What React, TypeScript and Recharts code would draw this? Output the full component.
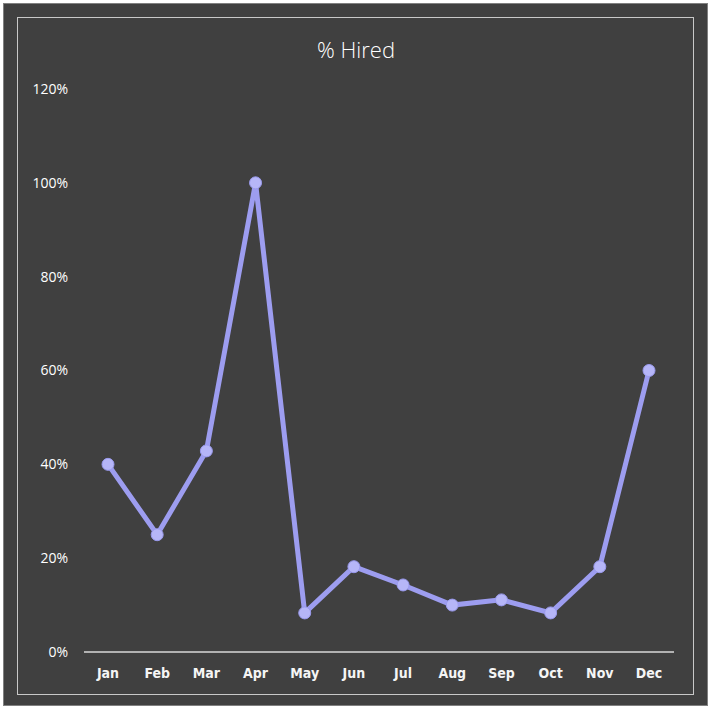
import { LineChart, Line, XAxis, YAxis } from "recharts";

// Monthly hire rate (percent)
const months = ["Jan", "Feb", "Mar", "Apr", "May", "Jun", "Jul", "Aug", "Sep", "Oct", "Nov", "Dec"];
const hired = [40, 25, 42.86, 100, 8.33, 18.18, 14.29, 10, 11.11, 8.33, 18.18, 60];
const yTicks = [0, 20, 40, 60, 80, 100, 120];

const data = months.map((m, i) => ({ month: m, hired: hired[i] }));

export default function App() {
  return (
    <div style={{ position: "absolute", left: 0, top: 0, width: 722, height: 720, background: "#fff" }}>
      {/* outer dark panel */}
      <div
        style={{
          position: "absolute",
          left: 3,
          top: 3,
          width: 703,
          height: 701,
          background: "#404040",
          border: "1px solid #808080",
        }}
      />
      {/* inner frame */}
      <div
        style={{
          position: "absolute",
          left: 17,
          top: 17,
          width: 675,
          height: 676,
          border: "1.5px solid #c8c8c8",
        }}
      />
      <div
        style={{
          position: "absolute",
          left: 17,
          top: 34,
          width: 678,
          textAlign: "center",
          color: "#ffffff",
          fontFamily: "'Open Sans', Roboto, sans-serif",
          fontWeight: 300,
          fontSize: 22,
        }}
      >
        % Hired
      </div>
      <div style={{ position: "absolute", left: 0, top: 0 }}>
        <LineChart width={722} height={720} data={data} margin={{ top: 89, right: 48, bottom: 38, left: 0 }}>
          <XAxis
            dataKey="month"
            height={30}
            padding={{ left: 24, right: 25 }}
            axisLine={{ stroke: "#d9d9d9", strokeWidth: 1.5 }}
            tickLine={false}
            tickMargin={10}
            tick={{ fill: "#f5f5f5", fontSize: 14, fontWeight: 700, fontFamily: "'DejaVu Sans Condensed', 'Roboto', sans-serif" }}
            interval={0}
          />
          <YAxis
            width={84}
            domain={[0, 120]}
            ticks={yTicks}
            tickFormatter={(v: number) => `${v}%`}
            axisLine={false}
            tickLine={false}
            tickMargin={10}
            tick={{ fill: "#ffffff", fontSize: 14, fontFamily: "'Open Sans', Roboto, sans-serif" }}
          />
          <Line
            dataKey="hired"
            type="linear"
            stroke="#9d9df0"
            strokeWidth={5}
            dot={{ r: 6, fill: "#b6b6f8", stroke: "#9a9aee", strokeWidth: 1 }}
            isAnimationActive={false}
          />
        </LineChart>
      </div>
    </div>
  );
}
